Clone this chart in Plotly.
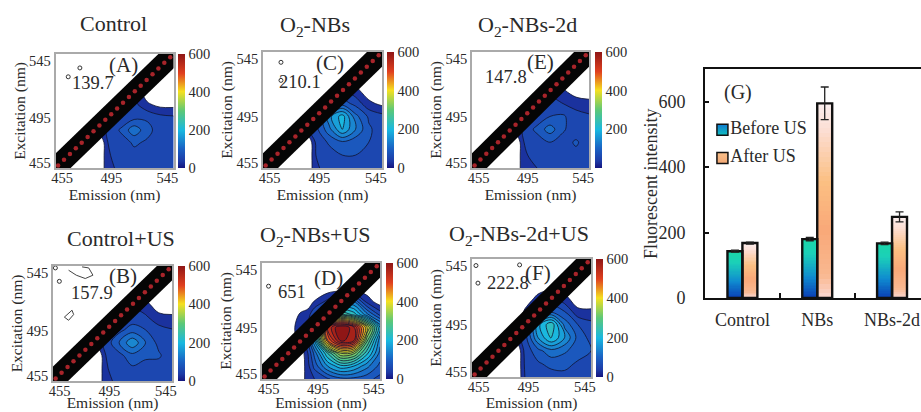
import plotly.graph_objects as go

W, H = 921, 412

# ---- EEM data (emission columns, excitation rows) ----
emission = [475, 485, 490, 495, 505, 515, 525, 535, 545]
excitation = [455, 465, 475, 485, 495, 505, 515, 525]

z_A = [[0, 0, 0, 48, 52, 58, 62, 55, 50],
       [0, 0, 0, 48, 58, 70, 68, 60, 52],
       [0, 0, 0, 50, 65, 85, 75, 65, 55],
       [0, 0, 40, 55, 85, 130, 90, 65, 55],
       [0, 0, 0, 50, 55, 70, 75, 60, 55],
       [0, 0, 0, 0, 40, 60, 26, 10, 10],
       [0, 0, 0, 0, 0, 40, 0, 0, 0],
       [0, 0, 0, 0, 0, 0, 0, 0, 0]]
z_B = [[0, 0, 0, 48, 52, 60, 58, 58, 50],
       [0, 0, 0, 48, 60, 75, 70, 65, 52],
       [0, 0, 0, 50, 70, 100, 85, 85, 58],
       [0, 0, 40, 60, 110, 165, 110, 70, 55],
       [0, 0, 0, 50, 70, 95, 80, 62, 52],
       [0, 0, 0, 0, 45, 60, 55, 30, 25],
       [0, 0, 0, 0, 0, 45, 30, 0, 0],
       [0, 0, 0, 0, 0, 0, 0, 0, 0]]
z_C = [[0, 0, 0, 48, 55, 60, 65, 60, 52],
       [0, 0, 0, 50, 65, 80, 80, 65, 55],
       [0, 0, 0, 55, 85, 105, 90, 80, 65],
       [0, 0, 50, 70, 130, 200, 140, 85, 65],
       [0, 0, 30, 60, 160, 215, 120, 75, 60],
       [0, 0, 0, 0, 60, 95, 70, 28, 12],
       [0, 0, 0, 0, 0, 50, 30, 0, 0],
       [0, 0, 0, 0, 0, 0, 0, 0, 0]]
z_D = [[0, 0, 40, 50, 75, 100, 100, 90, 70],
       [0, 0, 40, 90, 170, 220, 200, 150, 100],
       [0, 0, 50, 120, 260, 380, 360, 240, 130],
       [0, 30, 80, 200, 500, 630, 600, 330, 150],
       [0, 40, 60, 160, 560, 660, 600, 420, 200],
       [0, 25, 35, 80, 200, 300, 250, 150, 70],
       [0, 0, 0, 22, 60, 120, 140, 40, 0],
       [0, 0, 0, 0, 0, 0, 0, 0, 0]]
z_E = [[0, 0, 0, 48, 50, 55, 55, 55, 50],
       [0, 0, 0, 48, 55, 68, 62, 70, 55],
       [0, 0, 0, 50, 60, 80, 65, 85, 60],
       [0, 0, 40, 55, 90, 125, 85, 60, 55],
       [0, 0, 0, 50, 55, 80, 85, 60, 55],
       [0, 0, 0, 0, 45, 55, 50, 40, 30],
       [0, 0, 0, 0, 0, 45, 25, 0, 0],
       [0, 0, 0, 0, 0, 0, 0, 0, 0]]
z_F = [[0, 0, 0, 50, 60, 65, 70, 60, 55],
       [0, 0, 0, 55, 75, 90, 90, 75, 65],
       [0, 0, 0, 60, 100, 130, 115, 95, 80],
       [0, 0, 40, 65, 170, 235, 170, 100, 70],
       [0, 22, 30, 50, 190, 255, 130, 80, 60],
       [0, 0, 0, 25, 50, 100, 80, 28, 25],
       [0, 0, 0, 0, 30, 55, 30, 0, 0],
       [0, 0, 0, 0, 0, 0, 0, 0, 0]]

# scatter band (excitation = emission) and its red dots
band_ends = [455, 545]
band_dots = [457, 461.5, 466, 470.5, 475, 479.5, 484, 488.5, 493, 497.5,
             502, 506.5, 511, 515.5, 520, 524.5, 529, 533.5, 538, 542.5]

# small isolated contours in the upper-left corner of each panel
islets = {
    "A": ([473.6, 464.7], [534, 527]),
    "B": ([459.8, 456.8], [533, 543.5]),
    "C": ([468.6, 468.6], [537, 523]),
    "D": ([460], [527]),
    "E": ([], []),
    "F": ([458, 491, 459.5], [540, 540.5, 526.6]),
}
b_squiggle_x = [466.8, 472.6, 479.4, 485.2, 482, 477]
b_squiggle_y = [541.7, 537.8, 535.2, 537.8, 543.5, 544.3]
b_diamond_x = [463.6, 469.4, 470.6, 466.8, 463.6]
b_diamond_y = [505, 510.4, 507, 502.5, 505]

# ---- bar chart data ----
groups = ["Control", "NBs", "NBs-2d"]
before_us = [143, 180, 167]
after_us = [168, 595, 248]
before_err = [3, 5, 4]
after_err = [3, 50, 15]
y_ticks = [0, 200, 400, 600]
legend_names = ["Before US", "After US"]

# ---- panel layout in pixels ----
panels = [
    dict(k="A", z=z_A, L=55.5, R=173.5, T=54, B=168, cb=178, title="Control", tx=113, ty=24,
         lab=(123, 65), val="139.7", vp=(93, 83)),
    dict(k="B", z=z_B, L=53, R=172, T=266, B=381, cb=178, title="Control+US", tx=121, ty=239,
         lab=(123, 276), val="157.9", vp=(92, 293)),
    dict(k="C", z=z_C, L=263, R=382, T=52, B=168, cb=387, title="O<sub>2</sub>-NBs", tx=315, ty=26,
         lab=(330, 63), val="210.1", vp=(300, 82)),
    dict(k="D", z=z_D, L=262, R=380, T=263, B=379, cb=386, title="O<sub>2</sub>-NBs+US", tx=315, ty=236,
         lab=(328, 278), val="651", vp=(292, 292)),
    dict(k="E", z=z_E, L=472, R=589, T=52, B=168, cb=595, title="O<sub>2</sub>-NBs-2d", tx=527, ty=26,
         lab=(540, 62), val="147.8", vp=(506, 77)),
    dict(k="F", z=z_F, L=472, R=591, T=259, B=377, cb=596, title="O<sub>2</sub>-NBs-2d+US", tx=519, ty=235,
         lab=(538, 273), val="222.8", vp=(508, 283)),
]

SERIF = "Liberation Serif"
INK = "#2a2a2a"
LEVEL_START, LEVEL_SIZE = 20, 30
bar_scale = [[0, "#15157f"], [0.06, "#1d3aa6"], [0.17, "#1a62c4"], [0.33, "#19b8e0"],
             [0.5, "#5cc878"], [0.67, "#f5e020"], [0.83, "#e0401f"], [1, "#8f1616"]]
# contour fill: below the first level is white, then the same ramp
contour_scale = [[0, "#ffffff"], [0.001, "#15157f"]] + [[max(s, 0.002), c] for s, c in bar_scale[1:]]

fig = go.Figure()
annots = []


def note(text, x, y, size, color=INK, angle=0):
    annots.append(dict(text=text, x=x / W, y=1 - y / H, xref="paper", yref="paper", showarrow=False,
                       xanchor="center", yanchor="middle", textangle=angle,
                       font=dict(family=SERIF, size=size, color=color)))


layout = {}
for i, p in enumerate(panels, start=1):
    xname, yname = f"xaxis{i}", f"yaxis{i}"
    xa, ya = f"x{i}", f"y{i}"
    layout[xname] = dict(domain=[p["L"] / W, p["R"] / W], range=[455, 545], anchor=ya,
                         tickmode="array", tickvals=[460, 497.7, 540.4], ticktext=["455", "495", "545"],
                         ticks="", showgrid=False, zeroline=False, showline=True, mirror=True,
                         linecolor="#aaaaaa", linewidth=1.5, ticklabelstandoff=-4,
                         tickfont=dict(family=SERIF, size=14.5, color=INK),
                         title=dict(text="Emission (nm)", standoff=0,
                                    font=dict(family=SERIF, size=15.5, color=INK)))
    layout[yname] = dict(domain=[1 - p["B"] / H, 1 - p["T"] / H], range=[455, 545], anchor=xa,
                         tickmode="array", tickvals=[459, 494.5, 539.5], ticktext=["455", "495", "545"],
                         ticks="", showgrid=False, zeroline=False, showline=True, mirror=True,
                         linecolor="#aaaaaa", linewidth=1.5,
                         tickfont=dict(family=SERIF, size=14.5, color=INK),
                         title=dict(text="Excitation (nm)", standoff=0,
                                    font=dict(family=SERIF, size=15.5, color=INK)))
    fig.add_trace(go.Contour(x=emission, y=excitation, z=p["z"], xaxis=xa, yaxis=ya,
                             autocontour=False,
                             contours=dict(start=LEVEL_START, end=LEVEL_START + 600, size=LEVEL_SIZE,
                                           coloring="fill"),
                             colorscale=contour_scale, showscale=False, hoverinfo="skip",
                             line=dict(color="#10142e", width=0.8, smoothing=1.0)))
    ix, iy = islets[p["k"]]
    if ix:
        fig.add_trace(go.Scatter(x=ix, y=iy, xaxis=xa, yaxis=ya, mode="markers", showlegend=False,
                                 marker=dict(symbol="circle-open", size=4, color="#333333",
                                             line=dict(width=1)), hoverinfo="skip"))
    if p["k"] == "B":
        for sx, sy in ((b_squiggle_x, b_squiggle_y), (b_diamond_x, b_diamond_y)):
            fig.add_trace(go.Scatter(x=sx, y=sy, xaxis=xa, yaxis=ya, mode="lines", showlegend=False,
                                     line=dict(color="#444444", width=1), hoverinfo="skip"))
    # colorbar carrier, hidden beneath the band
    fig.add_trace(go.Scatter(x=[465, 475], y=[465, 475], xaxis=xa, yaxis=ya, mode="markers", showlegend=False,
                             marker=dict(size=1, color=[0, 600], cmin=0, cmax=600, colorscale=bar_scale,
                                         showscale=True,
                                         colorbar=dict(x=p["cb"] / W, xanchor="left", xref="paper",
                                                       y=1 - p["B"] / H, yanchor="bottom", yref="paper",
                                                       len=(p["B"] - p["T"]) / H, lenmode="fraction",
                                                       thickness=7, thicknessmode="pixels",
                                                       outlinewidth=0, ticks="", xpad=0, ypad=0,
                                                       tickvals=[200, 400, 600] if p["k"] == "E" else y_ticks,
                                                       ticklabelposition="outside",
                                                       tickfont=dict(family=SERIF, size=14.5, color=INK))),
                             hoverinfo="skip"))
    fig.add_trace(go.Scatter(x=band_ends, y=band_ends, xaxis=xa, yaxis=ya, mode="lines", showlegend=False,
                             line=dict(color="#050505", width=21), hoverinfo="skip"))
    fig.add_trace(go.Scatter(x=band_dots, y=band_dots, xaxis=xa, yaxis=ya, mode="markers", showlegend=False,
                             marker=dict(color="#a8242a", size=4.5), hoverinfo="skip"))
    note(p["title"], p["tx"], p["ty"], 22)
    note(f"({p['k']})", p["lab"][0], p["lab"][1], 21)
    note(p["val"], p["vp"][0], p["vp"][1], 18.5)

# ---- bar panel ----
BX, BY = "x7", "y7"
layout["xaxis7"] = dict(domain=[705 / W, 1], range=[-0.5, 2.387], anchor=BY, tickmode="array",
                        tickvals=[0, 0.5, 1, 1.5, 2], ticktext=[groups[0], "", groups[1], "", groups[2]],
                        ticks="inside", ticklen=5, tickwidth=1.5, tickcolor="#111111",
                        showgrid=False, zeroline=False, showline=True, mirror=True,
                        linecolor="#111111", linewidth=2, ticklabelstandoff=4,
                        tickfont=dict(family=SERIF, size=18, color=INK))
layout["yaxis7"] = dict(domain=[1 - 298 / H, 1 - 69 / H], range=[0, 700], anchor=BX, tickvals=y_ticks,
                        ticks="inside", ticklen=4, tickwidth=1.5, tickcolor="#111111",
                        showgrid=False, zeroline=False, showline=True, linecolor="#111111", linewidth=2,
                        ticklabelstandoff=14, tickfont=dict(family=SERIF, size=18, color=INK))
note("Fluorescent intensity", 651, 184, 18, angle=-90)

before_grad = [[0, "#0a3cb4"], [0.35, "#0f8ad0"], [0.75, "#1bd0b8"], [1, "#1bd6a8"]]
after_grad = [[0, "#fbd8d2"], [0.12, "#f9b890"], [0.35, "#f9a878"], [0.6, "#fbc083"], [0.85, "#fcdcd0"], [1, "#fbeeee"]]
STEPS = 40
BAR_W = 0.2


def gradient(xpos, val, scale):
    ys = [val * j / STEPS for j in range(STEPS + 1)]
    zs = [[(j + 0.5) / STEPS] for j in range(STEPS)]
    fig.add_trace(go.Heatmap(x=[xpos, xpos + BAR_W], y=ys, z=zs, xaxis=BX, yaxis=BY, zmin=0, zmax=1,
                             colorscale=scale, showscale=False, hoverinfo="skip"))


for j in range(len(groups)):
    gradient(j - BAR_W, before_us[j], before_grad)
    gradient(j, after_us[j], after_grad)

for vals, errs, off, name in ((before_us, before_err, -BAR_W, legend_names[0]),
                              (after_us, after_err, 0, legend_names[1])):
    fig.add_trace(go.Bar(x=[0, 1, 2], y=vals, width=BAR_W, offset=off, name=name, xaxis=BX, yaxis=BY,
                         showlegend=False, marker=dict(color="rgba(0,0,0,0)", line=dict(color="#111111", width=2.4)),
                         error_y=dict(type="data", array=errs, color="#222222", thickness=1.3, width=4)))

for name, ypos, grad in ((legend_names[0], 514, ("#0f7ad0", "#12c0c0")), (legend_names[1], 428, ("#f9c08a", "#f2a875"))):
    fig.add_trace(go.Scatter(x=[-0.267], y=[ypos], xaxis=BX, yaxis=BY, mode="markers+text", showlegend=False,
                             text=[name], textposition="middle right",
                             textfont=dict(family=SERIF, size=18, color=INK),
                             marker=dict(symbol="square", size=11, color=grad[0],
                                         gradient=dict(type="vertical", color=grad[1]),
                                         line=dict(color="#111111", width=1.5)), hoverinfo="skip"))
note("(G)", 738, 92, 20)

fig.update_layout(width=W, height=H, margin=dict(l=0, r=0, t=0, b=0, autoexpand=False), paper_bgcolor="white",
                  plot_bgcolor="white", showlegend=False, barmode="overlay", annotations=annots,
                  font=dict(family=SERIF), **layout)
fig.write_html("out.html", config=dict(displayModeBar=False),
               post_script="document.body.style.margin='0';document.documentElement.style.overflow='hidden';")
